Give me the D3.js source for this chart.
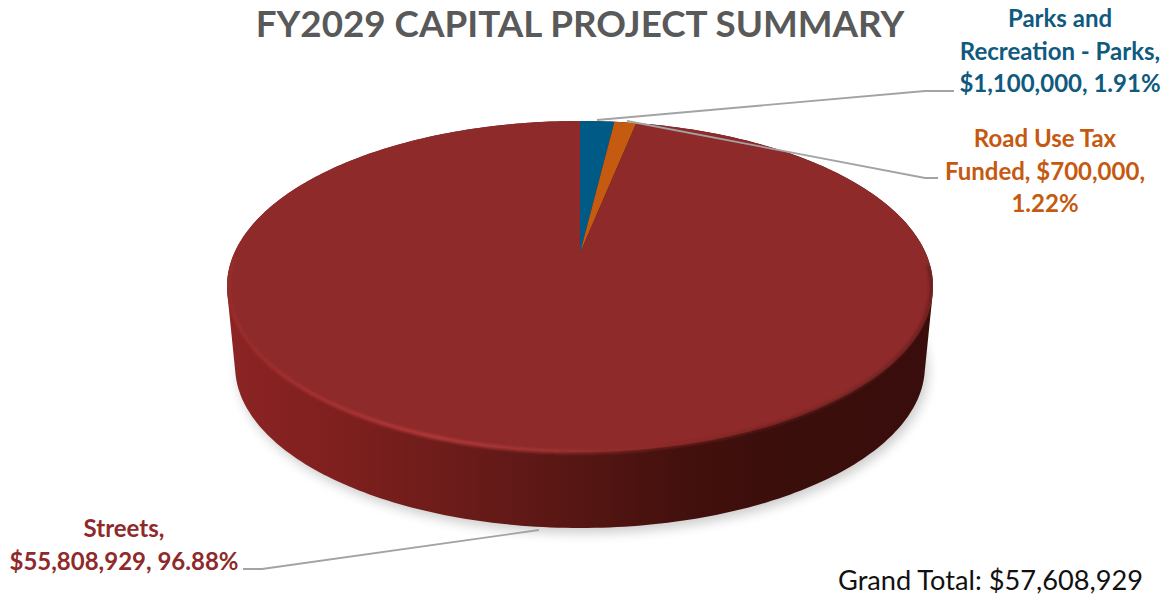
<!DOCTYPE html>
<html><head><meta charset="utf-8">
<script src="https://cdn.jsdelivr.net/npm/d3@7"></script>
<style>html,body{margin:0;padding:0;background:#fff}svg{display:block}text{font-family:Lato,"Open Sans",sans-serif}</style>
</head><body><div id="c"></div>
<script>
const categories = ["Parks and Recreation - Parks", "Road Use Tax Funded", "Streets"];
const values = [1100000, 700000, 55808929];
const colors = ["#005a86", "#c55a11", "#8e2a2a"];
const textColors = ["#0f5a7e", "#c5590f", "#8e2a2a"];
const labelLines = [
  ["Parks and", "Recreation - Parks,", "$1,100,000, 1.91%"],
  ["Road Use Tax", "Funded, $700,000,", "1.22%"],
  ["Streets,", "$55,808,929, 96.88%"]
];
const titleText = "FY2029 CAPITAL PROJECT SUMMARY";
const totalText = "Grand Total: $57,608,929";

const W = 1170, H = 596;
const svg = d3.select("#c").append("svg").attr("width", W).attr("height", H);
const defs = svg.append("defs");

// perspective projection of the pie disc
const cx = 580, y0 = 253, k = 0.2024, A = 345.7, B = 158.7;
function project(t, r = 1, depth = 0) {
  const u = r * Math.sin(t), v = r * Math.cos(t), d = 1 + k * v;
  const s = 1 - 0.023 * depth;
  return [cx + s * A * u / d, y0 + depth * 80.6 - s * B * v / d];
}
const TAU = Math.PI * 2;
const samples = d3.range(0, 361, 1).map(d => d / 360 * TAU);
const line = d3.line().curve(d3.curveLinearClosed);
const topRing = samples.map(t => project(t));
const bottomRing = samples.map(t => project(t, 1, 1));
const hull = d3.polygonHull(topRing.concat(bottomRing));

// gradients and filters
const sideGrad = defs.append("linearGradient").attr("id", "side").attr("gradientUnits", "userSpaceOnUse")
  .attr("x1", 228).attr("x2", 933).attr("y1", 0).attr("y2", 0);
[[0, "#8c2424"], [0.18, "#7c1f1d"], [0.35, "#681b19"], [0.5, "#561613"], [0.65, "#42100d"], [0.8, "#3a0e0b"], [1, "#380d0b"]]
  .forEach(s => sideGrad.append("stop").attr("offset", s[0]).attr("stop-color", s[1]));
const rimGrad = defs.append("linearGradient").attr("id", "rim").attr("gradientUnits", "userSpaceOnUse")
  .attr("x1", 228).attr("x2", 933).attr("y1", 0).attr("y2", 0);
[[0, "#9c2c2c", 0.7], [0.12, "#a83232", 1], [0.3, "#b83c3c", 1], [0.45, "#a83636", 0.9], [0.6, "#8a2a28", 0.6], [0.75, "#6a1e1c", 0.7], [1, "#5a1816", 0.7]]
  .forEach(s => rimGrad.append("stop").attr("offset", s[0]).attr("stop-color", s[1]).attr("stop-opacity", s[2]));
defs.append("filter").attr("id", "blur").attr("x", "-10%").attr("y", "-10%").attr("width", "120%").attr("height", "120%")
  .append("feGaussianBlur").attr("stdDeviation", 6);
defs.append("filter").attr("id", "blurRim").attr("x", "-10%").attr("y", "-10%").attr("width", "120%").attr("height", "120%")
  .append("feGaussianBlur").attr("stdDeviation", 1.8);
defs.append("clipPath").attr("id", "hullClip").append("path").attr("d", line(hull));

// soft shadow
svg.append("path").attr("d", line(bottomRing.map(p => [p[0] + 3, p[1] + 5])))
  .attr("fill", "#000").attr("opacity", 0.2).attr("filter", "url(#blur)");

// side wall
svg.append("path").attr("d", line(hull)).attr("fill", "url(#side)");

// pie slices on top face
const pie = d3.pie().sort(null).value(d => d)(values);
svg.append("g").selectAll("path").data(pie).join("path")
  .attr("d", d => {
    const steps = Math.max(2, Math.ceil((d.endAngle - d.startAngle) * 60));
    const pts = d3.range(steps + 1).map(i => project(d.startAngle + (d.endAngle - d.startAngle) * i / steps));
    return line([project(0, 0)].concat(pts));
  })
  .attr("fill", (d, i) => colors[i]);

// bevel highlight on the front rim
svg.append("g").attr("clip-path", "url(#hullClip)").append("path")
  .attr("d", d3.line()(samples.filter(t => t > Math.PI * 0.52 && t < Math.PI * 1.5).map(t => project(t, 0.995, 0.015))))
  .attr("fill", "none").attr("stroke", "url(#rim)").attr("stroke-width", 3.5).attr("filter", "url(#blurRim)");

// leader lines
const leaders = [
  [[597, 120], [925, 91], [954, 91]],
  [[627, 121], [925, 178], [938, 178]],
  [[539, 530], [262, 569], [243, 569]]
];
svg.append("g").selectAll("path").data(leaders).join("path")
  .attr("d", d3.line()).attr("fill", "none").attr("stroke", "#a3a3a3").attr("stroke-width", 1.8);

// title
svg.append("text").attr("x", 580).attr("y", 36.5).attr("text-anchor", "middle")
  .attr("font-size", 36.8).attr("font-weight", 700).attr("fill", "#595959").text(titleText);

// labels
const labelPos = [[1060, 27], [1045, 147], [124, 537]];
labelLines.forEach((ls, i) => {
  const t = svg.append("text").attr("text-anchor", "middle").attr("font-size", 24).attr("font-weight", 700).attr("fill", textColors[i]);
  ls.forEach((s, j) => t.append("tspan").attr("x", labelPos[i][0]).attr("y", labelPos[i][1] + j * 32.5).text(s));
});

// grand total
svg.append("text").attr("x", 838).attr("y", 590).attr("font-size", 27.2).attr("fill", "#111").text(totalText);
</script></body></html>
